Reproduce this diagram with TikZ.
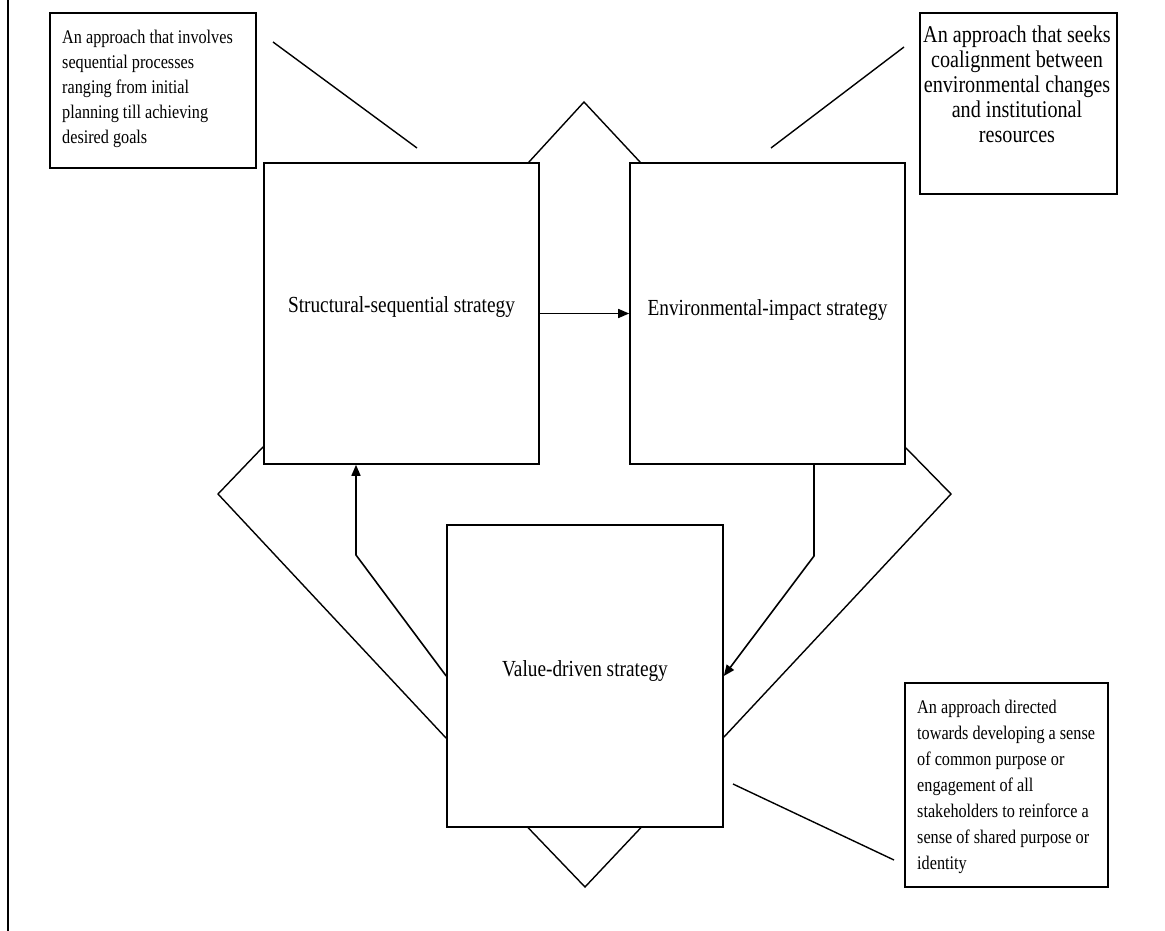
\documentclass[tikz,border=0pt]{standalone}
\usepackage{fontspec}
\newfontfamily\tnr[FakeStretch=0.84]{Liberation Serif}
\usetikzlibrary{arrows.meta,calc}
\tikzset{
  bigbox/.style={draw,line width=1.6pt,inner sep=0pt,minimum width=275pt,minimum height=301pt},
  notebox/.style={draw,line width=1.8pt,inner sep=0pt},
  bigtext/.style={font=\tnr\fontsize{23}{27}\selectfont,inner sep=0pt,anchor=base},
  smalltext/.style={font=\tnr\fontsize{19.3}{#1}\selectfont,inner sep=0pt,align=left,anchor=north west},
  thinline/.style={line width=1.4pt},
  conn/.style={line width=1.6pt,-{Triangle[length=11pt,width=9pt]}}
}
\begin{document}
\begin{tikzpicture}[x=1pt,y=-1pt]
\useasboundingbox (0,0) rectangle (1165,931);
% left frame line
\coordinate (fa) at (8,0);
\coordinate (fb) at (8,931);
\draw[line width=2.4pt] (fa) -- (fb);
% main boxes
\node[bigbox] (s) at (401.5,313.5) {};
\node[bigbox] (e) at (767.5,313.5) {};
\node[bigbox,minimum width=276pt,minimum height=302pt] (v) at (585,676) {};
\node[bigtext] (st) at (401.5,312) {Structural-sequential strategy};
\node[bigtext] (et) at (767.5,315) {Environmental-impact strategy};
\node[bigtext] (vt) at (585,676) {Value-driven strategy};
% note boxes
\node[notebox,minimum width=206pt,minimum height=155pt] (n1) at (153,90.5) {};
\node[notebox,minimum width=197pt,minimum height=181pt] (n2) at (1018.5,103.5) {};
\node[notebox,minimum width=203pt,minimum height=204pt] (n3) at (1006.5,785) {};
\node[smalltext=25] (n1t) at (62,30) {An approach that involves\\sequential processes\\ranging from initial\\planning till achieving\\desired goals};
\node[font=\tnr\fontsize{24}{25}\selectfont,inner sep=0pt,align=center,anchor=north] (n2t) at (1017,26) {An approach that seeks\\coalignment between\\environmental changes\\and institutional\\resources};
\node[smalltext=26] (n3t) at (917,700) {An approach directed\\towards developing a sense\\of common purpose or\\engagement of all\\stakeholders to reinforce a\\sense of shared purpose or\\identity};
% arrows
\draw[conn] (s) -- (e);
\coordinate (ek) at (814,556);
\draw[conn] (e.south -| ek) -- (ek) -- (v.east);
\coordinate (sk) at (356,555);
\draw[conn] (v.west) -- (sk) -- (s.south -| sk);
% diamond outlines
\coordinate (dt) at (584,102);
\draw[thinline] ($(s.north east)+(-11,0)$) -- (dt) -- ($(e.north west)+(11,0)$);
\coordinate (dl) at (218,494);
\draw[thinline] ($(s.south west)+(0,-18)$) -- (dl) -- ($(v.north west)+(0,214)$);
\coordinate (dr) at (951,494);
\draw[thinline] ($(e.south east)+(0,-17)$) -- (dr) -- ($(v.north east)+(0,213)$);
\coordinate (db) at (585,887);
\draw[thinline] ($(v.south west)+(82,0)$) -- (db) -- ($(v.south east)+(-83,0)$);
% free lines near the notes
\coordinate (la) at (273,42);
\coordinate (lb) at (417,148);
\draw[thinline] (la) -- (lb);
\coordinate (ra) at (904,47);
\coordinate (rb) at (771,148);
\draw[thinline] (ra) -- (rb);
\coordinate (ba) at (733,784);
\coordinate (bb) at (894,860);
\draw[thinline] (ba) -- (bb);
\end{tikzpicture}
\end{document}
